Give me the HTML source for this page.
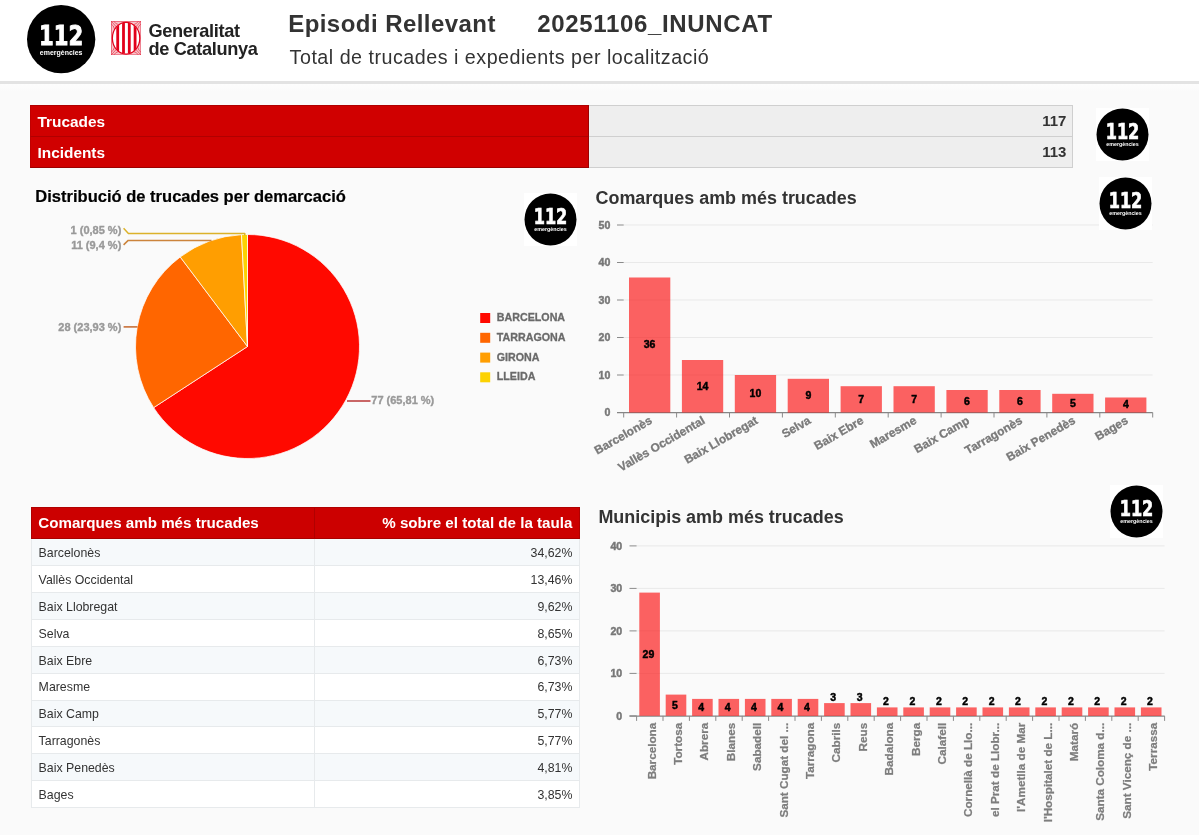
<!DOCTYPE html><html lang="ca"><head><meta charset="utf-8"><title>Episodi Rellevant</title><style>
html,body{margin:0;padding:0}
body{width:1199px;height:835px;position:relative;overflow:hidden;background:#fafafa;font-family:"Liberation Sans", Arial, Helvetica, sans-serif;color:#333}
.abs{position:absolute}
.t{position:absolute;white-space:nowrap;line-height:1}
#hdr{position:absolute;left:0;top:0;width:1199px;height:81px;background:#fff;border-bottom:3px solid #e3e3e3}
#hdrshade{position:absolute;left:0;top:84px;width:1199px;height:8px;background:linear-gradient(#fdfdfd,#fafafa)}
.kl{position:absolute;left:30px;width:559px;background:#d00000;box-sizing:border-box;border:1px solid #9c0000;border-left-color:#c00000;border-top-color:#b00000;color:#fff;font-weight:bold;font-size:15.4px}
.kv{position:absolute;left:589px;width:484px;background:#eeeeee;box-sizing:border-box;border:1px solid #cfcfcf;border-left:none;color:#333;font-weight:bold;font-size:15px}
.kl span{position:absolute;left:6.5px;top:6.9px;line-height:17px}
.kv span{position:absolute;right:5.6px;top:6.3px;line-height:17px}
table{position:absolute;left:31px;top:507px;width:549px;border-collapse:collapse;table-layout:fixed;font-size:12.35px;color:#333}
th{background:#cc0000;color:#fff;font-size:15.15px;font-weight:bold;height:31.25px;padding:0 6.6px 2px 6.3px;box-sizing:border-box;border:1px solid #b00000;border-bottom-color:#a80000}
td{height:26.9px;padding:1.5px 6.6px 0 6.6px;box-sizing:border-box;border:1px solid #e7eaec;background:#fff}
tr:nth-child(odd) td{background:#f6f9fb}
.l{text-align:left} .r{text-align:right}
</style></head><body><div id="hdr"></div><div id="hdrshade"></div><svg class="abs" style="left:27.35px;top:5.45px" width="68.30" height="68.30" viewBox="-34.000 -34.000 68.000 68.000"><circle cx="0" cy="0" r="34" fill="#000"/><text x="0" y="5.9" text-anchor="middle" font-family="DejaVu Sans, sans-serif" font-weight="bold" font-size="26.8" fill="#fff" stroke="#fff" stroke-width="0.9" textLength="44" lengthAdjust="spacingAndGlyphs">112</text><text x="0" y="15.6" text-anchor="middle" font-family="Liberation Sans, sans-serif" font-weight="bold" font-size="7.2" fill="#fff" textLength="42.5" lengthAdjust="spacingAndGlyphs">emergències</text></svg><svg class="abs" style="left:111px;top:20.8px" width="30.2" height="34.2" viewBox="0 0 30.2 34.2"><defs><clipPath id="ov"><ellipse cx="15.1" cy="17.2" rx="13.4" ry="15.6"/></clipPath></defs><rect x="0.4" y="0.4" width="29.4" height="33.4" fill="#f7c3c9" stroke="#e9566a" stroke-width="0.8"/><path d="M0.4,0.4 l5,5.5 M3.0,0.4 q1.2,2.4 4.4,3.2 M0.4,3.1999999999999997 q2.2,1.2 3,4.6" stroke="#e2001a" stroke-opacity="0.75" stroke-width="0.7" fill="none"/><path d="M29.8,0.4 l-5,5.5 M27.2,0.4 q-1.2,2.4 -4.4,3.2 M29.8,3.1999999999999997 q-2.2,1.2 -3,4.6" stroke="#e2001a" stroke-opacity="0.75" stroke-width="0.7" fill="none"/><path d="M0.4,33.8 l5,-5.5 M3.0,33.8 q1.2,-2.4 4.4,-3.2 M0.4,30.999999999999996 q2.2,-1.2 3,-4.6" stroke="#e2001a" stroke-opacity="0.75" stroke-width="0.7" fill="none"/><path d="M29.8,33.8 l-5,-5.5 M27.2,33.8 q-1.2,-2.4 -4.4,-3.2 M29.8,30.999999999999996 q-2.2,-1.2 -3,-4.6" stroke="#e2001a" stroke-opacity="0.75" stroke-width="0.7" fill="none"/><ellipse cx="15.1" cy="17.2" rx="13.7" ry="15.9" fill="#fff" stroke="#e2001a" stroke-width="1.2"/><g clip-path="url(#ov)" fill="#e2001a"><rect x="5.3" y="0" width="2.8" height="34.2"/><rect x="11.1" y="0" width="2.8" height="34.2"/><rect x="16.9" y="0" width="2.8" height="34.2"/><rect x="22.7" y="0" width="2.8" height="34.2"/></g></svg><div class="t" style="left:148.4px;top:21.6px;font-weight:bold;font-size:18.2px;line-height:18px;color:#222;letter-spacing:-0.33px">Generalitat<br>de Catalunya</div><div class="t" style="left:288.2px;top:10.2px;font-weight:bold;font-size:24px;line-height:27px;color:#333;letter-spacing:0.45px">Episodi Rellevant</div><div class="t" style="left:537.2px;top:10.2px;font-weight:bold;font-size:24px;line-height:27px;color:#333;letter-spacing:0.66px">20251106_INUNCAT</div><div class="t" style="left:289.6px;top:46.4px;font-size:19.7px;line-height:22px;color:#333;letter-spacing:0.5px">Total de trucades i expedients per localització</div><div class="kl" style="top:105px;height:32px"><span>Trucades</span></div><div class="kl" style="top:136px;height:32px"><span>Incidents</span></div><div class="kv" style="top:105px;height:32px"><span>117</span></div><div class="kv" style="top:136px;height:32px"><span>113</span></div><div class="t" style="left:595.5px;top:188.0px;font-weight:bold;font-size:17.95px;line-height:20px;color:#333">Comarques amb més trucades</div><div class="t" style="left:598.4px;top:507.2px;font-weight:bold;font-size:17.95px;line-height:20px;color:#333">Municipis amb més trucades</div><table><colgroup><col style="width:282.5px"><col></colgroup><thead><tr><th class="l">Comarques amb més trucades</th><th class="r">% sobre el total de la taula</th></tr></thead><tbody><tr><td class="l">Barcelonès</td><td class="r">34,62%</td></tr><tr><td class="l">Vallès Occidental</td><td class="r">13,46%</td></tr><tr><td class="l">Baix Llobregat</td><td class="r">9,62%</td></tr><tr><td class="l">Selva</td><td class="r">8,65%</td></tr><tr><td class="l">Baix Ebre</td><td class="r">6,73%</td></tr><tr><td class="l">Maresme</td><td class="r">6,73%</td></tr><tr><td class="l">Baix Camp</td><td class="r">5,77%</td></tr><tr><td class="l">Tarragonès</td><td class="r">5,77%</td></tr><tr><td class="l">Baix Penedès</td><td class="r">4,81%</td></tr><tr><td class="l">Bages</td><td class="r">3,85%</td></tr></tbody></table><svg class="abs" style="left:0;top:0" width="1199" height="835" viewBox="0 0 1199 835" font-family="Liberation Sans, Arial, sans-serif"><path d="M247.5,346.5 L247.50,234.50 A112,112 0 1 1 153.65,407.63 Z" fill="#FF0900" stroke="#fff" stroke-opacity="0.75" stroke-width="1"/><path d="M247.5,346.5 L153.65,407.63 A112,112 0 0 1 180.22,256.96 Z" fill="#FF6600" stroke="#fff" stroke-opacity="0.75" stroke-width="1"/><path d="M247.5,346.5 L180.22,256.96 A112,112 0 0 1 241.49,234.66 Z" fill="#FF9E01" stroke="#fff" stroke-opacity="0.75" stroke-width="1"/><path d="M247.5,346.5 L241.49,234.66 A112,112 0 0 1 247.50,234.50 Z" fill="#FCD202" stroke="#fff" stroke-opacity="0.75" stroke-width="1"/><text x="35.3" y="202.3" font-size="16.55" font-weight="bold" fill="#000" stroke="#000" stroke-width="0.2">Distribució de trucades per demarcació</text><text x="121.3" y="233.9" text-anchor="end" font-size="11" font-weight="bold" fill="#999" stroke="#999" stroke-width="0.35">1 (0,85 %)</text><text x="121.3" y="248.8" text-anchor="end" font-size="11" font-weight="bold" fill="#999" stroke="#999" stroke-width="0.35">11 (9,4 %)</text><text x="121.3" y="330.7" text-anchor="end" font-size="11" font-weight="bold" fill="#999" stroke="#999" stroke-width="0.35">28 (23,93 %)</text><text x="371.3" y="404.4" font-size="11" font-weight="bold" fill="#999" stroke="#999" stroke-width="0.35">77 (65,81 %)</text><path d="M123.6,228.2 L128.4,233.4 H244.8 V235.5" fill="none" stroke="#dcb22a" stroke-width="1.5" stroke-linejoin="round"/><path d="M123.6,244.9 L128.2,240.4 H211.5" fill="none" stroke="#cc843c" stroke-width="1.5" stroke-linejoin="round"/><path d="M123.6,326.9 H137.5" fill="none" stroke="#c4662a" stroke-width="1.5"/><path d="M347,401 H370.5" fill="none" stroke="#b83535" stroke-width="1.5"/><rect x="480.2" y="313" width="10" height="10" fill="#FF0900"/><text x="496.8" y="320.9" font-size="10.7" font-weight="bold" fill="#6a6a6a" stroke="#6a6a6a" stroke-width="0.3">BARCELONA</text><rect x="480.2" y="332.8" width="10" height="10" fill="#FF6600"/><text x="496.8" y="340.7" font-size="10.7" font-weight="bold" fill="#6a6a6a" stroke="#6a6a6a" stroke-width="0.3">TARRAGONA</text><rect x="480.2" y="352.6" width="10" height="10" fill="#FF9E01"/><text x="496.8" y="360.5" font-size="10.7" font-weight="bold" fill="#6a6a6a" stroke="#6a6a6a" stroke-width="0.3">GIRONA</text><rect x="480.2" y="372.3" width="10" height="10" fill="#FCD202"/><text x="496.8" y="380.2" font-size="10.7" font-weight="bold" fill="#6a6a6a" stroke="#6a6a6a" stroke-width="0.3">LLEIDA</text><path d="M617,412.5 H623.7" stroke="#8a8a8a" stroke-width="1" fill="none"/><text x="610.3" y="416.3" text-anchor="end" font-size="10.6" font-weight="bold" fill="#777" stroke="#777" stroke-width="0.45">0</text><path d="M623.7,375.0 H1152.7" stroke="#e9e9e9" stroke-width="1" fill="none"/><path d="M617,375.0 H623.7" stroke="#8a8a8a" stroke-width="1" fill="none"/><text x="610.3" y="378.8" text-anchor="end" font-size="10.6" font-weight="bold" fill="#777" stroke="#777" stroke-width="0.45">10</text><path d="M623.7,337.5 H1152.7" stroke="#e9e9e9" stroke-width="1" fill="none"/><path d="M617,337.5 H623.7" stroke="#8a8a8a" stroke-width="1" fill="none"/><text x="610.3" y="341.3" text-anchor="end" font-size="10.6" font-weight="bold" fill="#777" stroke="#777" stroke-width="0.45">20</text><path d="M623.7,300.0 H1152.7" stroke="#e9e9e9" stroke-width="1" fill="none"/><path d="M617,300.0 H623.7" stroke="#8a8a8a" stroke-width="1" fill="none"/><text x="610.3" y="303.8" text-anchor="end" font-size="10.6" font-weight="bold" fill="#777" stroke="#777" stroke-width="0.45">30</text><path d="M623.7,262.5 H1152.7" stroke="#e9e9e9" stroke-width="1" fill="none"/><path d="M617,262.5 H623.7" stroke="#8a8a8a" stroke-width="1" fill="none"/><text x="610.3" y="266.3" text-anchor="end" font-size="10.6" font-weight="bold" fill="#777" stroke="#777" stroke-width="0.45">40</text><path d="M623.7,225.0 H1152.7" stroke="#e9e9e9" stroke-width="1" fill="none"/><path d="M617,225.0 H623.7" stroke="#8a8a8a" stroke-width="1" fill="none"/><text x="610.3" y="228.8" text-anchor="end" font-size="10.6" font-weight="bold" fill="#777" stroke="#777" stroke-width="0.45">50</text><path d="M617,412.7 H1152.7" stroke="#858585" stroke-width="1.3" fill="none"/><rect x="629.0" y="277.5" width="41.3" height="135.0" fill="#fc0808" fill-opacity="0.63"/><text x="649.6" y="348.4" text-anchor="middle" font-size="10.5" font-weight="bold" fill="#000" stroke="#000" stroke-width="0.45">36</text><rect x="681.9" y="360.0" width="41.3" height="52.5" fill="#fc0808" fill-opacity="0.63"/><text x="702.5" y="389.6" text-anchor="middle" font-size="10.5" font-weight="bold" fill="#000" stroke="#000" stroke-width="0.45">14</text><rect x="734.8" y="375.0" width="41.3" height="37.5" fill="#fc0808" fill-opacity="0.63"/><text x="755.4" y="397.1" text-anchor="middle" font-size="10.5" font-weight="bold" fill="#000" stroke="#000" stroke-width="0.45">10</text><rect x="787.7" y="378.8" width="41.3" height="33.8" fill="#fc0808" fill-opacity="0.63"/><text x="808.4" y="399.0" text-anchor="middle" font-size="10.5" font-weight="bold" fill="#000" stroke="#000" stroke-width="0.45">9</text><rect x="840.6" y="386.2" width="41.3" height="26.2" fill="#fc0808" fill-opacity="0.63"/><text x="861.2" y="402.8" text-anchor="middle" font-size="10.5" font-weight="bold" fill="#000" stroke="#000" stroke-width="0.45">7</text><rect x="893.5" y="386.2" width="41.3" height="26.2" fill="#fc0808" fill-opacity="0.63"/><text x="914.1" y="402.8" text-anchor="middle" font-size="10.5" font-weight="bold" fill="#000" stroke="#000" stroke-width="0.45">7</text><rect x="946.4" y="390.0" width="41.3" height="22.5" fill="#fc0808" fill-opacity="0.63"/><text x="967.0" y="404.6" text-anchor="middle" font-size="10.5" font-weight="bold" fill="#000" stroke="#000" stroke-width="0.45">6</text><rect x="999.3" y="390.0" width="41.3" height="22.5" fill="#fc0808" fill-opacity="0.63"/><text x="1019.9" y="404.6" text-anchor="middle" font-size="10.5" font-weight="bold" fill="#000" stroke="#000" stroke-width="0.45">6</text><rect x="1052.2" y="393.8" width="41.3" height="18.8" fill="#fc0808" fill-opacity="0.63"/><text x="1072.9" y="406.5" text-anchor="middle" font-size="10.5" font-weight="bold" fill="#000" stroke="#000" stroke-width="0.45">5</text><rect x="1105.1" y="397.5" width="41.3" height="15.0" fill="#fc0808" fill-opacity="0.63"/><text x="1125.8" y="408.4" text-anchor="middle" font-size="10.5" font-weight="bold" fill="#000" stroke="#000" stroke-width="0.45">4</text><path d="M623.7,412.5 V417.5" stroke="#8a8a8a" stroke-width="1" fill="none"/><path d="M676.6,412.5 V417.5" stroke="#8a8a8a" stroke-width="1" fill="none"/><path d="M729.5,412.5 V417.5" stroke="#8a8a8a" stroke-width="1" fill="none"/><path d="M782.4,412.5 V417.5" stroke="#8a8a8a" stroke-width="1" fill="none"/><path d="M835.3,412.5 V417.5" stroke="#8a8a8a" stroke-width="1" fill="none"/><path d="M888.2,412.5 V417.5" stroke="#8a8a8a" stroke-width="1" fill="none"/><path d="M941.1,412.5 V417.5" stroke="#8a8a8a" stroke-width="1" fill="none"/><path d="M994.0,412.5 V417.5" stroke="#8a8a8a" stroke-width="1" fill="none"/><path d="M1046.9,412.5 V417.5" stroke="#8a8a8a" stroke-width="1" fill="none"/><path d="M1099.8,412.5 V417.5" stroke="#8a8a8a" stroke-width="1" fill="none"/><path d="M1152.7,412.5 V417.5" stroke="#8a8a8a" stroke-width="1" fill="none"/><text transform="translate(652.9,422.8) rotate(-30)" text-anchor="end" font-size="11.9" font-weight="bold" fill="#7a7a7a" stroke="#7a7a7a" stroke-width="0.3">Barcelonès</text><text transform="translate(705.8,422.8) rotate(-30)" text-anchor="end" font-size="11.9" font-weight="bold" fill="#7a7a7a" stroke="#7a7a7a" stroke-width="0.3">Vallès Occidental</text><text transform="translate(758.7,422.8) rotate(-30)" text-anchor="end" font-size="11.9" font-weight="bold" fill="#7a7a7a" stroke="#7a7a7a" stroke-width="0.3">Baix Llobregat</text><text transform="translate(811.6,422.8) rotate(-30)" text-anchor="end" font-size="11.9" font-weight="bold" fill="#7a7a7a" stroke="#7a7a7a" stroke-width="0.3">Selva</text><text transform="translate(864.5,422.8) rotate(-30)" text-anchor="end" font-size="11.9" font-weight="bold" fill="#7a7a7a" stroke="#7a7a7a" stroke-width="0.3">Baix Ebre</text><text transform="translate(917.4,422.8) rotate(-30)" text-anchor="end" font-size="11.9" font-weight="bold" fill="#7a7a7a" stroke="#7a7a7a" stroke-width="0.3">Maresme</text><text transform="translate(970.3,422.8) rotate(-30)" text-anchor="end" font-size="11.9" font-weight="bold" fill="#7a7a7a" stroke="#7a7a7a" stroke-width="0.3">Baix Camp</text><text transform="translate(1023.2,422.8) rotate(-30)" text-anchor="end" font-size="11.9" font-weight="bold" fill="#7a7a7a" stroke="#7a7a7a" stroke-width="0.3">Tarragonès</text><text transform="translate(1076.2,422.8) rotate(-30)" text-anchor="end" font-size="11.9" font-weight="bold" fill="#7a7a7a" stroke="#7a7a7a" stroke-width="0.3">Baix Penedès</text><text transform="translate(1129.0,422.8) rotate(-30)" text-anchor="end" font-size="11.9" font-weight="bold" fill="#7a7a7a" stroke="#7a7a7a" stroke-width="0.3">Bages</text><path d="M629.5,715.9 H636.6" stroke="#8a8a8a" stroke-width="1" fill="none"/><text x="622.2" y="719.7" text-anchor="end" font-size="10.6" font-weight="bold" fill="#777" stroke="#777" stroke-width="0.45">0</text><path d="M636.6,673.4 H1164.6" stroke="#e9e9e9" stroke-width="1" fill="none"/><path d="M629.5,673.4 H636.6" stroke="#8a8a8a" stroke-width="1" fill="none"/><text x="622.2" y="677.2" text-anchor="end" font-size="10.6" font-weight="bold" fill="#777" stroke="#777" stroke-width="0.45">10</text><path d="M636.6,630.9 H1164.6" stroke="#e9e9e9" stroke-width="1" fill="none"/><path d="M629.5,630.9 H636.6" stroke="#8a8a8a" stroke-width="1" fill="none"/><text x="622.2" y="634.7" text-anchor="end" font-size="10.6" font-weight="bold" fill="#777" stroke="#777" stroke-width="0.45">20</text><path d="M636.6,588.4 H1164.6" stroke="#e9e9e9" stroke-width="1" fill="none"/><path d="M629.5,588.4 H636.6" stroke="#8a8a8a" stroke-width="1" fill="none"/><text x="622.2" y="592.2" text-anchor="end" font-size="10.6" font-weight="bold" fill="#777" stroke="#777" stroke-width="0.45">30</text><path d="M636.6,545.9 H1164.6" stroke="#e9e9e9" stroke-width="1" fill="none"/><path d="M629.5,545.9 H636.6" stroke="#8a8a8a" stroke-width="1" fill="none"/><text x="622.2" y="549.7" text-anchor="end" font-size="10.6" font-weight="bold" fill="#777" stroke="#777" stroke-width="0.45">40</text><path d="M629.5,716.1 H1164.6" stroke="#858585" stroke-width="1.3" fill="none"/><rect x="639.3" y="592.6" width="20.6" height="123.2" fill="#fc0808" fill-opacity="0.63"/><text x="648.4" y="657.7" text-anchor="middle" font-size="10.5" font-weight="bold" fill="#000" stroke="#000" stroke-width="0.45">29</text><rect x="665.7" y="694.6" width="20.6" height="21.2" fill="#fc0808" fill-opacity="0.63"/><text x="674.8" y="708.7" text-anchor="middle" font-size="10.5" font-weight="bold" fill="#000" stroke="#000" stroke-width="0.45">5</text><rect x="692.1" y="698.9" width="20.6" height="17.0" fill="#fc0808" fill-opacity="0.63"/><text x="701.2" y="710.8" text-anchor="middle" font-size="10.5" font-weight="bold" fill="#000" stroke="#000" stroke-width="0.45">4</text><rect x="718.5" y="698.9" width="20.6" height="17.0" fill="#fc0808" fill-opacity="0.63"/><text x="727.6" y="710.8" text-anchor="middle" font-size="10.5" font-weight="bold" fill="#000" stroke="#000" stroke-width="0.45">4</text><rect x="744.9" y="698.9" width="20.6" height="17.0" fill="#fc0808" fill-opacity="0.63"/><text x="754.0" y="710.8" text-anchor="middle" font-size="10.5" font-weight="bold" fill="#000" stroke="#000" stroke-width="0.45">4</text><rect x="771.3" y="698.9" width="20.6" height="17.0" fill="#fc0808" fill-opacity="0.63"/><text x="780.4" y="710.8" text-anchor="middle" font-size="10.5" font-weight="bold" fill="#000" stroke="#000" stroke-width="0.45">4</text><rect x="797.7" y="698.9" width="20.6" height="17.0" fill="#fc0808" fill-opacity="0.63"/><text x="806.8" y="710.8" text-anchor="middle" font-size="10.5" font-weight="bold" fill="#000" stroke="#000" stroke-width="0.45">4</text><rect x="824.1" y="703.1" width="20.6" height="12.8" fill="#fc0808" fill-opacity="0.63"/><text x="833.2" y="700.9" text-anchor="middle" font-size="10.5" font-weight="bold" fill="#000" stroke="#000" stroke-width="0.45">3</text><rect x="850.5" y="703.1" width="20.6" height="12.8" fill="#fc0808" fill-opacity="0.63"/><text x="859.6" y="700.9" text-anchor="middle" font-size="10.5" font-weight="bold" fill="#000" stroke="#000" stroke-width="0.45">3</text><rect x="876.9" y="707.4" width="20.6" height="8.5" fill="#fc0808" fill-opacity="0.63"/><text x="886.0" y="705.2" text-anchor="middle" font-size="10.5" font-weight="bold" fill="#000" stroke="#000" stroke-width="0.45">2</text><rect x="903.3" y="707.4" width="20.6" height="8.5" fill="#fc0808" fill-opacity="0.63"/><text x="912.4" y="705.2" text-anchor="middle" font-size="10.5" font-weight="bold" fill="#000" stroke="#000" stroke-width="0.45">2</text><rect x="929.7" y="707.4" width="20.6" height="8.5" fill="#fc0808" fill-opacity="0.63"/><text x="938.8" y="705.2" text-anchor="middle" font-size="10.5" font-weight="bold" fill="#000" stroke="#000" stroke-width="0.45">2</text><rect x="956.1" y="707.4" width="20.6" height="8.5" fill="#fc0808" fill-opacity="0.63"/><text x="965.2" y="705.2" text-anchor="middle" font-size="10.5" font-weight="bold" fill="#000" stroke="#000" stroke-width="0.45">2</text><rect x="982.5" y="707.4" width="20.6" height="8.5" fill="#fc0808" fill-opacity="0.63"/><text x="991.6" y="705.2" text-anchor="middle" font-size="10.5" font-weight="bold" fill="#000" stroke="#000" stroke-width="0.45">2</text><rect x="1008.9" y="707.4" width="20.6" height="8.5" fill="#fc0808" fill-opacity="0.63"/><text x="1018.0" y="705.2" text-anchor="middle" font-size="10.5" font-weight="bold" fill="#000" stroke="#000" stroke-width="0.45">2</text><rect x="1035.3" y="707.4" width="20.6" height="8.5" fill="#fc0808" fill-opacity="0.63"/><text x="1044.4" y="705.2" text-anchor="middle" font-size="10.5" font-weight="bold" fill="#000" stroke="#000" stroke-width="0.45">2</text><rect x="1061.7" y="707.4" width="20.6" height="8.5" fill="#fc0808" fill-opacity="0.63"/><text x="1070.8" y="705.2" text-anchor="middle" font-size="10.5" font-weight="bold" fill="#000" stroke="#000" stroke-width="0.45">2</text><rect x="1088.1" y="707.4" width="20.6" height="8.5" fill="#fc0808" fill-opacity="0.63"/><text x="1097.2" y="705.2" text-anchor="middle" font-size="10.5" font-weight="bold" fill="#000" stroke="#000" stroke-width="0.45">2</text><rect x="1114.5" y="707.4" width="20.6" height="8.5" fill="#fc0808" fill-opacity="0.63"/><text x="1123.6" y="705.2" text-anchor="middle" font-size="10.5" font-weight="bold" fill="#000" stroke="#000" stroke-width="0.45">2</text><rect x="1140.9" y="707.4" width="20.6" height="8.5" fill="#fc0808" fill-opacity="0.63"/><text x="1150.0" y="705.2" text-anchor="middle" font-size="10.5" font-weight="bold" fill="#000" stroke="#000" stroke-width="0.45">2</text><path d="M636.6,715.9 V720.9" stroke="#8a8a8a" stroke-width="1" fill="none"/><path d="M663.0,715.9 V720.9" stroke="#8a8a8a" stroke-width="1" fill="none"/><path d="M689.4,715.9 V720.9" stroke="#8a8a8a" stroke-width="1" fill="none"/><path d="M715.8,715.9 V720.9" stroke="#8a8a8a" stroke-width="1" fill="none"/><path d="M742.2,715.9 V720.9" stroke="#8a8a8a" stroke-width="1" fill="none"/><path d="M768.6,715.9 V720.9" stroke="#8a8a8a" stroke-width="1" fill="none"/><path d="M795.0,715.9 V720.9" stroke="#8a8a8a" stroke-width="1" fill="none"/><path d="M821.4,715.9 V720.9" stroke="#8a8a8a" stroke-width="1" fill="none"/><path d="M847.8,715.9 V720.9" stroke="#8a8a8a" stroke-width="1" fill="none"/><path d="M874.2,715.9 V720.9" stroke="#8a8a8a" stroke-width="1" fill="none"/><path d="M900.6,715.9 V720.9" stroke="#8a8a8a" stroke-width="1" fill="none"/><path d="M927.0,715.9 V720.9" stroke="#8a8a8a" stroke-width="1" fill="none"/><path d="M953.4,715.9 V720.9" stroke="#8a8a8a" stroke-width="1" fill="none"/><path d="M979.8,715.9 V720.9" stroke="#8a8a8a" stroke-width="1" fill="none"/><path d="M1006.2,715.9 V720.9" stroke="#8a8a8a" stroke-width="1" fill="none"/><path d="M1032.6,715.9 V720.9" stroke="#8a8a8a" stroke-width="1" fill="none"/><path d="M1059.0,715.9 V720.9" stroke="#8a8a8a" stroke-width="1" fill="none"/><path d="M1085.4,715.9 V720.9" stroke="#8a8a8a" stroke-width="1" fill="none"/><path d="M1111.8,715.9 V720.9" stroke="#8a8a8a" stroke-width="1" fill="none"/><path d="M1138.2,715.9 V720.9" stroke="#8a8a8a" stroke-width="1" fill="none"/><path d="M1164.6,715.9 V720.9" stroke="#8a8a8a" stroke-width="1" fill="none"/><text transform="translate(655.5,722.8) rotate(-90)" text-anchor="end" font-size="11.7" font-weight="bold" fill="#7d7d7d" stroke="#7d7d7d" stroke-width="0.25">Barcelona</text><text transform="translate(681.9,722.8) rotate(-90)" text-anchor="end" font-size="11.7" font-weight="bold" fill="#7d7d7d" stroke="#7d7d7d" stroke-width="0.25">Tortosa</text><text transform="translate(708.3,722.8) rotate(-90)" text-anchor="end" font-size="11.7" font-weight="bold" fill="#7d7d7d" stroke="#7d7d7d" stroke-width="0.25">Abrera</text><text transform="translate(734.7,722.8) rotate(-90)" text-anchor="end" font-size="11.7" font-weight="bold" fill="#7d7d7d" stroke="#7d7d7d" stroke-width="0.25">Blanes</text><text transform="translate(761.1,722.8) rotate(-90)" text-anchor="end" font-size="11.7" font-weight="bold" fill="#7d7d7d" stroke="#7d7d7d" stroke-width="0.25">Sabadell</text><text transform="translate(787.5,722.8) rotate(-90)" text-anchor="end" font-size="11.7" font-weight="bold" fill="#7d7d7d" stroke="#7d7d7d" stroke-width="0.25">Sant Cugat del ...</text><text transform="translate(813.9,722.8) rotate(-90)" text-anchor="end" font-size="11.7" font-weight="bold" fill="#7d7d7d" stroke="#7d7d7d" stroke-width="0.25">Tarragona</text><text transform="translate(840.3,722.8) rotate(-90)" text-anchor="end" font-size="11.7" font-weight="bold" fill="#7d7d7d" stroke="#7d7d7d" stroke-width="0.25">Cabrils</text><text transform="translate(866.7,722.8) rotate(-90)" text-anchor="end" font-size="11.7" font-weight="bold" fill="#7d7d7d" stroke="#7d7d7d" stroke-width="0.25">Reus</text><text transform="translate(893.1,722.8) rotate(-90)" text-anchor="end" font-size="11.7" font-weight="bold" fill="#7d7d7d" stroke="#7d7d7d" stroke-width="0.25">Badalona</text><text transform="translate(919.5,722.8) rotate(-90)" text-anchor="end" font-size="11.7" font-weight="bold" fill="#7d7d7d" stroke="#7d7d7d" stroke-width="0.25">Berga</text><text transform="translate(945.9,722.8) rotate(-90)" text-anchor="end" font-size="11.7" font-weight="bold" fill="#7d7d7d" stroke="#7d7d7d" stroke-width="0.25">Calafell</text><text transform="translate(972.3,722.8) rotate(-90)" text-anchor="end" font-size="11.7" font-weight="bold" fill="#7d7d7d" stroke="#7d7d7d" stroke-width="0.25">Cornellà de Llo...</text><text transform="translate(998.7,722.8) rotate(-90)" text-anchor="end" font-size="11.7" font-weight="bold" fill="#7d7d7d" stroke="#7d7d7d" stroke-width="0.25">el Prat de Llobr...</text><text transform="translate(1025.1,722.8) rotate(-90)" text-anchor="end" font-size="11.7" font-weight="bold" fill="#7d7d7d" stroke="#7d7d7d" stroke-width="0.25">l'Ametlla de Mar</text><text transform="translate(1051.5,722.8) rotate(-90)" text-anchor="end" font-size="11.7" font-weight="bold" fill="#7d7d7d" stroke="#7d7d7d" stroke-width="0.25">l'Hospitalet de L...</text><text transform="translate(1077.9,722.8) rotate(-90)" text-anchor="end" font-size="11.7" font-weight="bold" fill="#7d7d7d" stroke="#7d7d7d" stroke-width="0.25">Mataró</text><text transform="translate(1104.3,722.8) rotate(-90)" text-anchor="end" font-size="11.7" font-weight="bold" fill="#7d7d7d" stroke="#7d7d7d" stroke-width="0.25">Santa Coloma d...</text><text transform="translate(1130.7,722.8) rotate(-90)" text-anchor="end" font-size="11.7" font-weight="bold" fill="#7d7d7d" stroke="#7d7d7d" stroke-width="0.25">Sant Vicenç de ...</text><text transform="translate(1157.1,722.8) rotate(-90)" text-anchor="end" font-size="11.7" font-weight="bold" fill="#7d7d7d" stroke="#7d7d7d" stroke-width="0.25">Terrassa</text></svg><svg class="abs" style="left:1096.20px;top:108.10px" width="53.00" height="53.00" viewBox="-34.654 -34.654 69.308 69.308"><rect x="-40" y="-40" width="80" height="80" fill="#fff"/><circle cx="0" cy="0" r="34" fill="#000"/><text x="0" y="5.9" text-anchor="middle" font-family="DejaVu Sans, sans-serif" font-weight="bold" font-size="26.8" fill="#fff" stroke="#fff" stroke-width="0.9" textLength="44" lengthAdjust="spacingAndGlyphs">112</text><text x="0" y="15.6" text-anchor="middle" font-family="Liberation Sans, sans-serif" font-weight="bold" font-size="7.2" fill="#fff" textLength="42.5" lengthAdjust="spacingAndGlyphs">emergències</text></svg><svg class="abs" style="left:1099.10px;top:176.90px" width="53.00" height="53.00" viewBox="-34.654 -34.654 69.308 69.308"><rect x="-40" y="-40" width="80" height="80" fill="#fff"/><circle cx="0" cy="0" r="34" fill="#000"/><text x="0" y="5.9" text-anchor="middle" font-family="DejaVu Sans, sans-serif" font-weight="bold" font-size="26.8" fill="#fff" stroke="#fff" stroke-width="0.9" textLength="44" lengthAdjust="spacingAndGlyphs">112</text><text x="0" y="15.6" text-anchor="middle" font-family="Liberation Sans, sans-serif" font-weight="bold" font-size="7.2" fill="#fff" textLength="42.5" lengthAdjust="spacingAndGlyphs">emergències</text></svg><svg class="abs" style="left:523.50px;top:192.90px" width="53.00" height="53.00" viewBox="-34.654 -34.654 69.308 69.308"><rect x="-40" y="-40" width="80" height="80" fill="#fff"/><circle cx="0" cy="0" r="34" fill="#000"/><text x="0" y="5.9" text-anchor="middle" font-family="DejaVu Sans, sans-serif" font-weight="bold" font-size="26.8" fill="#fff" stroke="#fff" stroke-width="0.9" textLength="44" lengthAdjust="spacingAndGlyphs">112</text><text x="0" y="15.6" text-anchor="middle" font-family="Liberation Sans, sans-serif" font-weight="bold" font-size="7.2" fill="#fff" textLength="42.5" lengthAdjust="spacingAndGlyphs">emergències</text></svg><svg class="abs" style="left:1110.00px;top:484.50px" width="53.00" height="53.00" viewBox="-34.654 -34.654 69.308 69.308"><rect x="-40" y="-40" width="80" height="80" fill="#fff"/><circle cx="0" cy="0" r="34" fill="#000"/><text x="0" y="5.9" text-anchor="middle" font-family="DejaVu Sans, sans-serif" font-weight="bold" font-size="26.8" fill="#fff" stroke="#fff" stroke-width="0.9" textLength="44" lengthAdjust="spacingAndGlyphs">112</text><text x="0" y="15.6" text-anchor="middle" font-family="Liberation Sans, sans-serif" font-weight="bold" font-size="7.2" fill="#fff" textLength="42.5" lengthAdjust="spacingAndGlyphs">emergències</text></svg></body></html>
